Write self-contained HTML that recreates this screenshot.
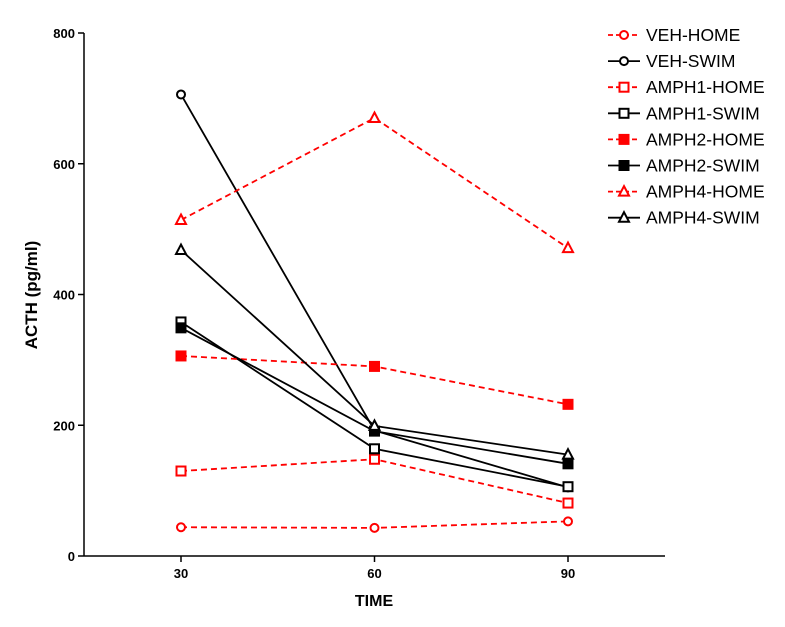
<!DOCTYPE html>
<html><head><meta charset="utf-8"><style>
body{margin:0;background:#fff;}
svg{display:block;font-family:"Liberation Sans",Arial,sans-serif;}
</style></head><body>
<svg id="chart" width="785" height="627">
<g id="axes"></g><g id="series"></g><g id="legend"></g>
</svg>
<script>
const xCategories=[30,60,90];
const yTicks=[0,200,400,600,800];
const seriesNames=["VEH-HOME","VEH-SWIM","AMPH1-HOME","AMPH1-SWIM","AMPH2-HOME","AMPH2-SWIM","AMPH4-HOME","AMPH4-SWIM"];
const vehHome=[44,43,53];
const vehSwim=[706,192,105];
const amph1Home=[130,148,81];
const amph1Swim=[358,164,106];
const amph2Home=[306,290,232];
const amph2Swim=[349,191,141];
const amph4Home=[514,670,471];
const amph4Swim=[468,199,155];
const seriesValues=[vehHome,vehSwim,amph1Home,amph1Swim,amph2Home,amph2Swim,amph4Home,amph4Swim];
const markers=["circle","circle","square","square","fsquare","fsquare","triangle","triangle"];

const NS="http://www.w3.org/2000/svg";
function X(v){return 181+(v-30)*(568-181)/60;}
function Y(v){return 556-v*(523/800);}
function mk(tag,attrs,parent){const e=document.createElementNS(NS,tag);for(const k in attrs)e.setAttribute(k,attrs[k]);parent.appendChild(e);return e;}
const axes=document.getElementById('axes'),series=document.getElementById('series'),legend=document.getElementById('legend');

let yl=mk('line',{x1:84,y1:33,x2:84,y2:556,stroke:'#000','stroke-width':1.5},axes);


let xl=mk('line',{x1:84,y1:556,x2:665,y2:556,stroke:'#000','stroke-width':1.5},axes);


yTicks.forEach(t=>{
  mk('line',{x1:78,y1:Y(t),x2:84,y2:Y(t),stroke:'#000','stroke-width':1.5},axes);
  const tx=mk('text',{x:75,y:Y(t)+5,'text-anchor':'end','font-size':13,'font-weight':'bold'},axes);
  tx.textContent=t;
  
  
});
xCategories.forEach(c=>{
  mk('line',{x1:X(c),y1:556,x2:X(c),y2:562,stroke:'#000','stroke-width':1.5},axes);
  const tx=mk('text',{x:X(c),y:578,'text-anchor':'middle','font-size':13,'font-weight':'bold'},axes);
  tx.textContent=c;
  
  
});
let yt=mk('text',{x:0,y:0,transform:'translate(37,295) rotate(-90)','text-anchor':'middle','font-size':17,'font-weight':'bold'},axes);
yt.textContent='ACTH (pg/ml)';


let xt=mk('text',{x:374,y:606,'text-anchor':'middle','font-size':16,'font-weight':'bold'},axes);
xt.textContent='TIME';



function marker(type,x,y,color,parent){
  if(type==='circle')return mk('circle',{cx:x,cy:y,r:4,fill:'#fff',stroke:color,'stroke-width':2},parent);
  if(type==='square')return mk('rect',{x:x-4.5,y:y-4.5,width:9,height:9,fill:'#fff',stroke:color,'stroke-width':2},parent);
  if(type==='fsquare')return mk('rect',{x:x-5,y:y-5,width:10,height:10,fill:color,stroke:color,'stroke-width':1},parent);
  return mk('polygon',{points:`${x},${y-5.5} ${x+5},${y+4} ${x-5},${y+4}`,fill:'#fff',stroke:color,'stroke-width':2},parent);
}
seriesValues.forEach((vals,i)=>{
  const home=i%2===0,color=home?'#ff0000':'#000';
  const g=mk('g',{},series);
  
  
  const pts=vals.map((v,j)=>X(xCategories[j])+','+Y(v)).join(' ');
  mk('polyline',{points:pts,fill:'none',stroke:color,'stroke-width':1.8,'stroke-dasharray':home?'6,4':'none'},g);
  vals.forEach((v,j)=>{
    const m=marker(markers[i],X(xCategories[j]),Y(v),color,g);
    
    
  });
  const ly=35+i*26.1;
  const lg=mk('g',{},legend);
  
  
  mk('line',{x1:608,y1:ly,x2:640,y2:ly,stroke:color,'stroke-width':1.8,'stroke-dasharray':home?'5,3':'none'},lg);
  marker(markers[i],624,ly,color,lg);
  const t=mk('text',{x:646,y:ly+6,'font-size':17.5,fill:'#000'},lg);
  t.textContent=seriesNames[i];
});
</script>
</body></html>
